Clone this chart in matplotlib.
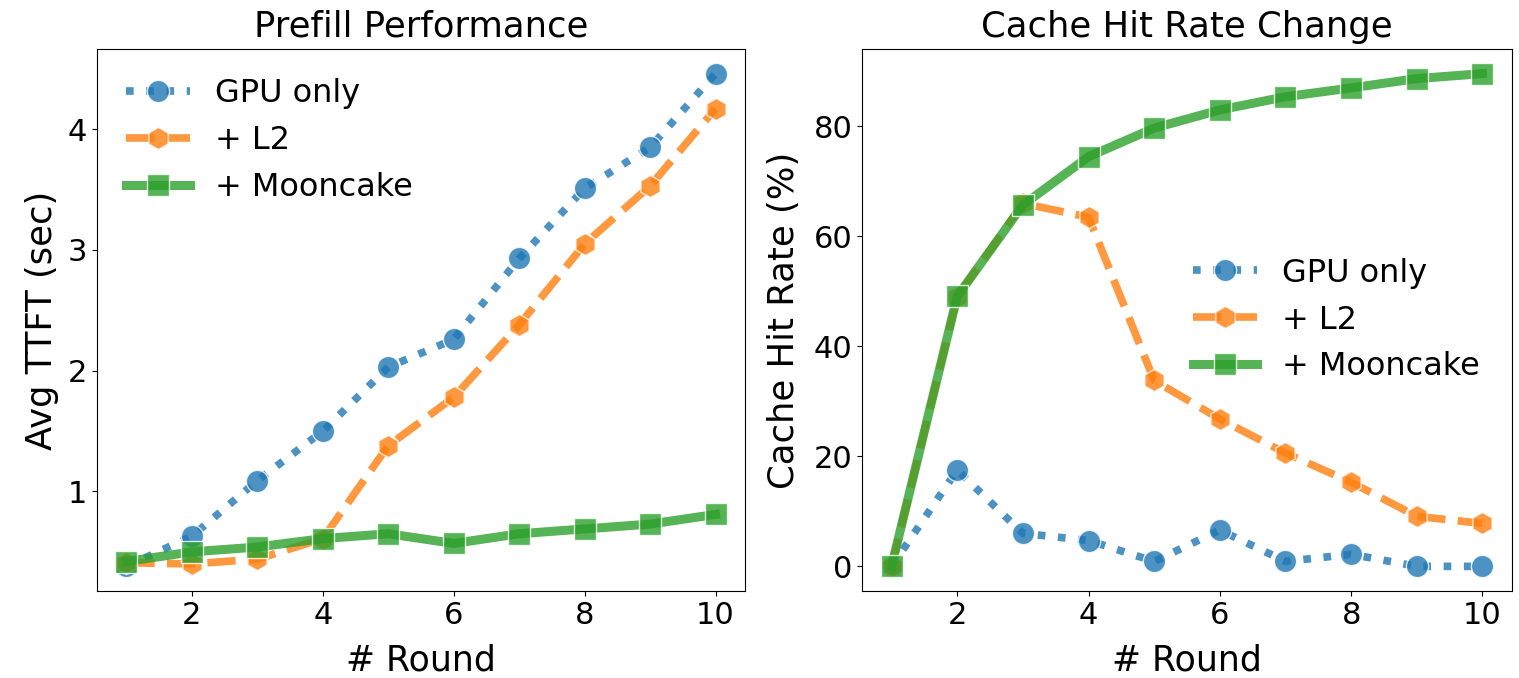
import matplotlib
matplotlib.use("Agg")
import matplotlib.pyplot as plt

rounds = [1, 2, 3, 4, 5, 6, 7, 8, 9, 10]
series_names = ["GPU only", "+ L2", "+ Mooncake"]

ttft_gpu = [0.38, 0.63, 1.09, 1.50, 2.03, 2.26, 2.93, 3.51, 3.85, 4.46]
ttft_l2 = [0.41, 0.40, 0.44, 0.61, 1.38, 1.78, 2.38, 3.05, 3.53, 4.17]
ttft_mooncake = [0.42, 0.50, 0.54, 0.61, 0.65, 0.57, 0.65, 0.69, 0.73, 0.81]

hit_gpu = [0.0, 17.5, 6.0, 4.7, 0.9, 6.6, 0.9, 2.2, 0.0, 0.0]
hit_l2 = [0.0, 49.0, 66.0, 63.5, 33.8, 26.8, 20.6, 15.3, 9.1, 7.8]
hit_mooncake = [0.0, 49.1, 65.7, 74.5, 79.7, 83.0, 85.4, 87.0, 88.7, 89.6]

colors = ["#1f77b4", "#ff7f0e", "#2ca02c"]
markers = ["o", "h", "s"]
styles = [":", "--", "-"]
msizes = [16, 16, 16]
lwidths = [5.5, 5.5, 6.5]

W, H = 1519, 678
fig = plt.figure(figsize=(W / 100, H / 100), dpi=100)
ax1 = fig.add_axes([97 / W, (H - 591) / H, 648 / W, 542 / H])
ax2 = fig.add_axes([862 / W, (H - 591) / H, 650 / W, 542 / H])

for ax, data in ((ax1, [ttft_gpu, ttft_l2, ttft_mooncake]),
                 (ax2, [hit_gpu, hit_l2, hit_mooncake])):
    for name, ys, c, m, ls, ms, lw in zip(series_names, data, colors, markers,
                                          styles, msizes, lwidths):
        ax.plot(rounds, ys, color=c, marker=m, linestyle=ls, linewidth=lw,
                markersize=ms, markeredgecolor="white", markeredgewidth=1,
                alpha=0.8, label=name)
    ax.tick_params(labelsize=22)
    ax.set_xlabel("# Round", fontsize=25, labelpad=10)
    ax.set_xticks([2, 4, 6, 8, 10])

ax1.set_ylabel("Avg TTFT (sec)", fontsize=25.5, labelpad=6)
ax1.set_title("Prefill Performance", fontsize=25.5, pad=9)
ax1.set_yticks([1, 2, 3, 4])
ax1.legend(loc="upper left", fontsize=23, frameon=False)

ax2.set_ylabel("Cache Hit Rate (%)", fontsize=25.5, labelpad=9)
ax2.set_title("Cache Hit Rate Change", fontsize=25.5, pad=9)
ax2.set_yticks([0, 20, 40, 60, 80])
ax2.legend(loc="center right", fontsize=23, frameon=False,
           bbox_to_anchor=(0.995, 0.5))

fig.savefig("out.png", dpi=100)
